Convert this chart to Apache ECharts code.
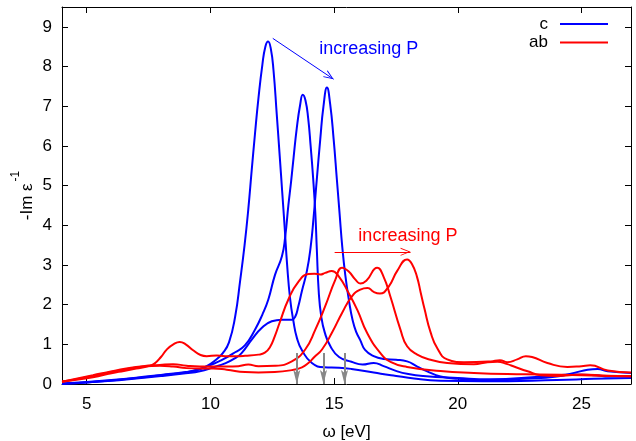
<!DOCTYPE html>
<html><head><meta charset="utf-8">
<script src="https://cdn.jsdelivr.net/npm/echarts@6/dist/echarts.min.js"></script>
<style>html,body{margin:0;padding:0;background:#fff}#c{width:636px;height:441px}</style>
</head><body><div id="c"></div>
<script>
// axis ticks
const xTicks = [5, 10, 15, 20, 25];
const yTicks = [0, 1, 2, 3, 4, 5, 6, 7, 8, 9];

// -Im eps^-1 along c (blue), three pressures
const c1 = [[4,0.01],[5,0.05],[6,0.1],[7,0.16],[8,0.23],[9,0.3],[9.5,0.36],[9.85,0.45],[10.2,0.6],[10.5,0.78],[10.75,1.05],[11.0,1.7],[11.2,2.6],[11.38,3.5],[11.53,4.4],[11.67,5.4],[11.8,6.3],[11.94,7.2],[12.1,8.05],[12.22,8.5],[12.33,8.63],[12.44,8.45],[12.55,7.9],[12.68,6.8],[12.8,5.75],[12.9,4.85],[13.0,3.95],[13.1,3.0],[13.22,2.15],[13.35,1.6],[13.5,1.15],[13.7,0.85],[14.1,0.53],[14.6,0.42],[15.2,0.41],[15.7,0.38],[16.6,0.29],[17.3,0.22],[18,0.16],[19.3,0.08],[21,0.07],[24,0.1],[25.5,0.13],[27,0.15]];
const c2 = [[4,0.01],[5,0.04],[6,0.09],[7,0.15],[8,0.22],[9,0.29],[9.57,0.38],[10.0,0.48],[10.45,0.6],[11.0,0.8],[11.4,0.98],[11.8,1.37],[12.1,1.75],[12.34,2.13],[12.61,2.75],[12.89,3.22],[13.02,3.7],[13.15,4.5],[13.26,5.1],[13.36,5.7],[13.49,6.45],[13.63,7.05],[13.73,7.29],[13.84,7.15],[13.95,6.7],[14.05,6.0],[14.15,5.2],[14.24,4.3],[14.3,3.4],[14.38,2.3],[14.48,1.7],[14.62,1.3],[14.85,0.95],[15.2,0.68],[15.7,0.56],[16.15,0.49],[16.6,0.53],[17.0,0.45],[17.5,0.33],[18,0.25],[18.6,0.2],[20,0.15],[21.3,0.12],[23.4,0.19],[24.7,0.24],[25.6,0.22],[26.1,0.19],[27,0.2]];
const c3 = [[4,0.0],[5,0.04],[6,0.08],[7,0.14],[8,0.2],[9,0.27],[9.57,0.32],[10.11,0.42],[10.59,0.52],[11.0,0.65],[11.26,0.78],[11.67,1.12],[12.07,1.41],[12.48,1.58],[12.89,1.62],[13.29,1.62],[13.43,1.7],[13.55,1.95],[13.7,2.35],[13.9,2.85],[14.05,3.45],[14.17,4.2],[14.3,5.16],[14.44,6.17],[14.57,7.0],[14.71,7.47],[14.84,7.05],[14.98,6.17],[15.11,5.16],[15.22,4.3],[15.33,3.45],[15.45,2.75],[15.6,2.1],[15.75,1.6],[15.9,1.3],[16.06,1.1],[16.25,0.86],[16.6,0.7],[17.0,0.63],[17.5,0.61],[17.95,0.57],[18.36,0.44],[18.76,0.32],[19.3,0.19],[20,0.13],[21.3,0.09],[22.7,0.13],[24,0.19],[24.7,0.28],[25.25,0.36],[25.65,0.38],[26.06,0.32],[27,0.28]];

// -Im eps^-1 in ab plane (red), three pressures
const ab1 = [[4,0.07],[4.5,0.1],[5.25,0.17],[6,0.27],[6.5,0.33],[7.0,0.39],[7.5,0.45],[7.75,0.52],[8.0,0.68],[8.25,0.88],[8.5,1.0],[8.76,1.06],[9.0,1.0],[9.3,0.85],[9.6,0.73],[9.85,0.7],[10.25,0.72],[10.59,0.70],[11.0,0.7],[11.4,0.71],[11.94,0.74],[12.2,0.79],[12.4,0.92],[12.6,1.2],[12.8,1.55],[13.15,2.13],[13.56,2.58],[13.96,2.77],[14.2,2.78],[14.44,2.76],[14.64,2.8],[14.9,2.85],[15.18,2.72],[15.58,2.30],[15.95,1.85],[16.33,1.29],[16.87,0.78],[17.3,0.55],[17.95,0.43],[19.3,0.33],[20.65,0.28],[22,0.25],[23.35,0.24],[25,0.22],[27,0.19]];
const ab2 = [[4,0.06],[5.25,0.22],[5.93,0.31],[6.6,0.39],[7.28,0.45],[7.95,0.48],[8.49,0.5],[9.03,0.46],[9.57,0.44],[10.11,0.44],[10.66,0.44],[11.13,0.45],[11.53,0.49],[11.94,0.45],[12.61,0.46],[13.29,0.57],[13.83,0.87],[14.24,1.37],[14.64,1.96],[15.05,2.63],[15.32,2.93],[15.58,2.84],[15.86,2.63],[16.06,2.53],[16.3,2.6],[16.74,2.93],[17.0,2.7],[17.27,2.21],[17.68,1.37],[17.95,0.95],[18.36,0.74],[18.9,0.61],[19.57,0.53],[20.65,0.5],[21.2,0.55],[21.6,0.56],[22.0,0.5],[22.27,0.44],[22.82,0.32],[23.35,0.22],[24,0.2],[25,0.24],[26,0.21],[27,0.2]];
const ab3 = [[4,0.05],[5.25,0.2],[6,0.3],[6.6,0.37],[7.28,0.44],[7.95,0.46],[8.49,0.44],[9.03,0.40],[9.57,0.39],[10.11,0.39],[10.66,0.36],[11.4,0.3],[11.94,0.29],[12.6,0.3],[13.29,0.35],[13.7,0.42],[13.96,0.53],[14.2,0.68],[14.51,0.87],[14.91,1.29],[15.32,1.79],[15.72,2.21],[16.06,2.38],[16.35,2.42],[16.6,2.32],[16.85,2.28],[17.2,2.45],[17.55,2.85],[17.95,3.14],[18.15,3.02],[18.35,2.7],[18.5,2.3],[18.65,1.9],[18.9,1.3],[19.17,0.9],[19.57,0.62],[20.25,0.55],[21.33,0.57],[21.7,0.6],[22.0,0.55],[22.4,0.62],[22.75,0.70],[23.0,0.68],[23.62,0.53],[24.43,0.43],[25.0,0.45],[25.35,0.47],[26.06,0.34],[27,0.29]];

// annotation arrows (data coordinates)
const blueArrow = [[12.52, 8.71], [14.98, 7.68]];
const redArrow = [[15.02, 3.33], [18.09, 3.33]];
const grayArrowX = [13.49, 14.57, 15.42];
const grayArrowTop = 0.78;
const grayArrowBottom = 0.0;
const blueText = {text: 'increasing P', x: 14.40, y: 8.44};
const redText = {text: 'increasing P', x: 15.98, y: 3.74};

const FONT = "'Liberation Sans', Arial, sans-serif";
// arrowheads whose tip sits at the symbol centre (extra invisible dot extends the box)
const openHead = 'path://M5,10 L10,20 L8.8,20 L5,12.2 L1.2,20 L0,20 Z M5,0 L5.01,0 L5,0.01 Z';
const solidHead = 'path://M5,14 L10,28 L5,25 L0,28 Z M5,0 L5.01,0 L5,0.01 Z';

const chart = echarts.init(document.getElementById('c'), null, {renderer: 'canvas'});

function lineSeries(name, data, color, extra) {
  return Object.assign({
    name: name, type: 'line', data: data, symbol: 'none', showSymbol: false,
    smooth: 0.5,
    lineStyle: {color: color, width: 2}, itemStyle: {color: color},
    emphasis: {disabled: true}, silent: true
  }, extra || {});
}

const grayLines = grayArrowX.map(x => [{coord: [x, grayArrowTop]}, {coord: [x, grayArrowBottom]}]);

const axisCommon = {
  type: 'value',
  axisLine: {show: true, onZero: false, lineStyle: {color: '#000', width: 1}},
  splitLine: {show: false},
  axisTick: {inside: true, length: 6, lineStyle: {color: '#000', width: 1}},
};

const option = {
  animation: false,
  backgroundColor: '#fff',
  textStyle: {fontFamily: FONT},
  grid: {left: 62, right: 5, top: 7, bottom: 57, containLabel: false, outerBoundsMode: 'none'},
  xAxis: [
    Object.assign({}, axisCommon, {
      position: 'bottom', min: 4, max: 27,
      axisTick: Object.assign({}, axisCommon.axisTick, {customValues: xTicks}),
      axisLabel: {customValues: xTicks, color: '#000', fontSize: 17, fontFamily: FONT, margin: 12},
      name: 'ω [eV]', nameLocation: 'middle', nameGap: 40, nameMoveOverlap: false,
      nameTextStyle: {color: '#000', fontSize: 17, fontFamily: FONT}
    }),
    Object.assign({}, axisCommon, {
      position: 'top', min: 4, max: 27,
      axisTick: Object.assign({}, axisCommon.axisTick, {customValues: xTicks}),
      axisLabel: {show: false}
    })
  ],
  yAxis: [
    Object.assign({}, axisCommon, {
      position: 'left', min: 0, max: 9.5,
      axisTick: Object.assign({}, axisCommon.axisTick, {customValues: yTicks}),
      axisLabel: {customValues: yTicks, color: '#000', fontSize: 17, fontFamily: FONT, margin: 10},
      name: '{a|-Im ε}{s|-1}', nameLocation: 'middle', nameGap: 26, nameRotate: 90, nameMoveOverlap: false,
      nameTextStyle: {
        color: '#000', fontFamily: FONT,
        rich: {
          a: {fontSize: 17, fontFamily: FONT, color: '#000', lineHeight: 26, verticalAlign: 'bottom'},
          s: {fontSize: 12, fontFamily: FONT, color: '#000', lineHeight: 26, verticalAlign: 'top', padding: [0, 0, 0, 2]}
        }
      }
    }),
    Object.assign({}, axisCommon, {
      position: 'right', min: 0, max: 9.5,
      axisTick: Object.assign({}, axisCommon.axisTick, {customValues: yTicks}),
      axisLabel: {show: false}
    })
  ],
  legend: {
    data: ['c', 'ab'], orient: 'vertical', right: 28, top: 15, padding: 0,
    align: 'right', itemWidth: 48, itemHeight: 2, itemGap: 0.4, icon: 'rect',
    selectedMode: false,
    textStyle: {color: '#000', fontSize: 17, fontFamily: FONT, lineHeight: 18, padding: [0, 7, 0, 0]}
  },
  series: [
    lineSeries('c', c1, '#0000ff', {
      markLine: {
        silent: true, symbol: ['none', openHead], symbolSize: [8, 20],
        label: {show: false}, lineStyle: {color: '#0000ff', width: 1, type: 'solid'},
        data: [[{coord: blueArrow[0]}, {coord: blueArrow[1]}]]
      }
    }),
    lineSeries('c', c2, '#0000ff'),
    lineSeries('c', c3, '#0000ff'),
    lineSeries('ab', ab1, '#ff0000', {
      markLine: {
        silent: true, symbol: ['none', openHead], symbolSize: [8, 20],
        label: {show: false}, lineStyle: {color: '#ff0000', width: 1, type: 'solid'},
        data: [[{coord: redArrow[0]}, {coord: redArrow[1]}]]
      }
    }),
    lineSeries('ab', ab2, '#ff0000'),
    lineSeries('ab', ab3, '#ff0000', {
      markLine: {
        silent: true, symbol: ['none', solidHead], symbolSize: [7, 28],
        label: {show: false}, lineStyle: {color: '#888888', width: 2, type: 'solid'},
        itemStyle: {color: '#888888'},
        data: grayLines
      }
    })
  ]
};
chart.setOption(option);

function placeText(t, color) {
  const p = chart.convertToPixel({gridIndex: 0}, [t.x, t.y]);
  return {
    type: 'text', x: p[0], y: p[1], silent: true,
    style: {text: t.text, fill: color, fontSize: 18, fontFamily: FONT, textAlign: 'left', textVerticalAlign: 'middle'}
  };
}
chart.setOption({graphic: [placeText(blueText, '#0000ff'), placeText(redText, '#ff0000')]});
</script>
</body></html>
